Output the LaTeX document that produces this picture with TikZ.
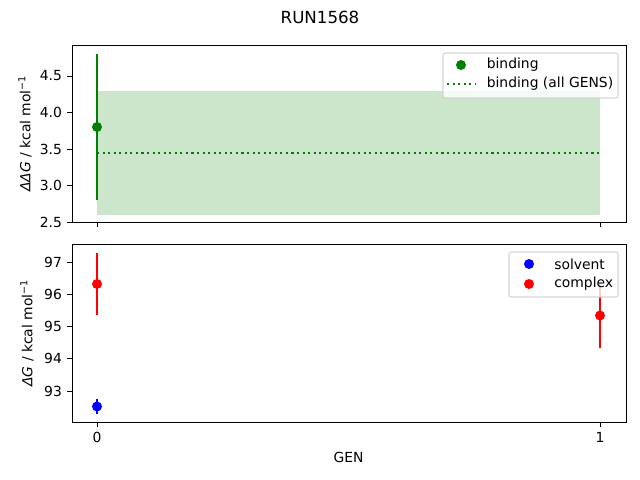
\documentclass[tikz,border=0pt]{standalone}
\usepackage{fontspec}
\setmainfont{DejaVu Sans}
\begin{document}
\begin{tikzpicture}[x=0.72pt,y=-0.72pt,
  frame/.style={line width=0.7pt,black},
  tick/.style={line width=0.7pt,black},
  ticklab/.style={font=\fontsize{10pt}{12pt}\selectfont,inner sep=0pt},
  ebar/.style={line width=1.5pt},
  dot/.style={circle,inner sep=0pt,minimum size=7.2pt},
  legbox/.style={draw=black!20,fill=white,fill opacity=0.8,draw opacity=0.8,rounded corners=1.5pt,line width=0.8pt},
  legtxt/.style={font=\fontsize{10pt}{12pt}\selectfont,inner sep=0pt,anchor=west}]
\definecolor{mplgreen}{HTML}{008000}
\definecolor{fillgreen}{HTML}{CCE6CC}
\useasboundingbox (0,0) rectangle (640,480);
% title
\node[font=\fontsize{12pt}{14pt}\selectfont] (title) at (320,17) {RUN1568};
% ---------- top axes ----------
\fill[fillgreen] (97,91) rectangle (600,214.5);
\draw[mplgreen,line width=1.5pt,dash pattern=on 1.5pt off 2.5pt] (97,153) -- (600,153);
\draw[mplgreen,ebar] (97,54) -- (97,200);
\node[dot,fill=mplgreen] (b0) at (97,127) {};
\draw[frame] (72,45) rectangle (626,222);
\foreach \v/\y in {2.5/222,3.0/185.5,3.5/149,4.0/112.5,4.5/76}{
  \draw[tick] (72,\y) -- (67.1,\y);
  \node[ticklab,anchor=east] at (62.2,\y) {\v};
}
\foreach \x in {97,600}{ \draw[tick] (\x,222) -- (\x,226.9); }
\node[rotate=90,font=\fontsize{10pt}{12pt}\selectfont] (ylab1) at (25,133.5) {{\itshape ΔΔG} / kcal mol\textsuperscript{−1}};
% legend top
\draw[legbox] (443,53) rectangle (618,98);
\node[dot,fill=mplgreen] (lb) at (461,65) {};
\draw[mplgreen,line width=1.5pt,dash pattern=on 1.5pt off 2.5pt] (447,84) -- (475,84);
\node[legtxt] (lt1) at (486.5,65) {binding};
\node[legtxt] (lt2) at (486.5,84) {binding (all GENS)};
% ---------- bottom axes ----------
\draw[red,ebar] (97,253) -- (97,315);
\node[dot,fill=red] (c0) at (97,284) {};
\draw[blue,ebar] (97,398.5) -- (97,414);
\node[dot,fill=blue] (s0) at (97,406.5) {};
\draw[red,ebar] (600,283) -- (600,347.5);
\node[dot,fill=red] (c1) at (600,315.5) {};
\draw[frame] (72,244) rectangle (626,422);
\foreach \v/\y in {93/391,94/358.75,95/326.5,96/294.25,97/262}{
  \draw[tick] (72,\y) -- (67.1,\y);
  \node[ticklab,anchor=east] at (62.2,\y) {\v};
}
\draw[tick] (97,422) -- (97,426.9);
\draw[tick] (600,422) -- (600,426.9);
\node[ticklab,anchor=north] (x0) at (97,431.7) {0};
\node[ticklab,anchor=north] (x1) at (600,431.7) {1};
\node[font=\fontsize{10pt}{12pt}\selectfont] (xlab) at (348.5,457) {GEN};
\node[rotate=90,font=\fontsize{10pt}{12pt}\selectfont] (ylab2) at (27,333) {{\itshape ΔG} / kcal mol\textsuperscript{−1}};
% legend bottom
\draw[legbox] (509,252) rectangle (618,297);
\node[dot,fill=blue] (ls) at (529,264) {};
\node[dot,fill=red] (lc) at (529,284) {};
\node[legtxt] (lt3) at (554,264) {solvent};
\node[legtxt] (lt4) at (554,284) {complex};
\end{tikzpicture}
\end{document}
